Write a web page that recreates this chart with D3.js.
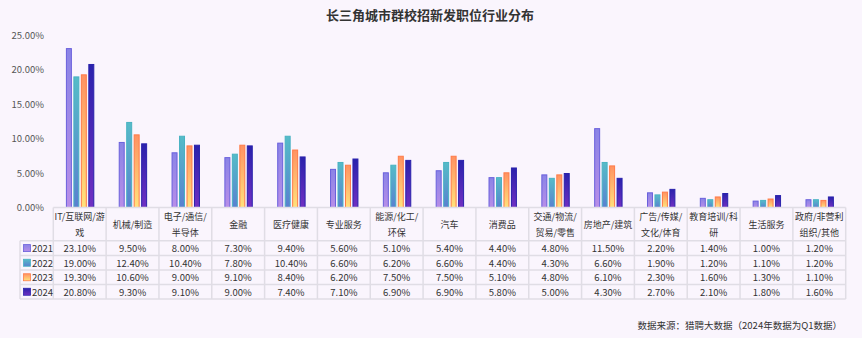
<!DOCTYPE html>
<html><head><meta charset="utf-8">
<script src="https://cdn.jsdelivr.net/npm/d3@7"></script>
<style>
html,body{margin:0;padding:0;background:#faf5fd;}
svg{display:block;font-family:"Noto Sans CJK SC","Noto Sans",sans-serif;}
</style></head>
<body><svg id="c" width="862" height="338"></svg>
<script>
const title = "长三角城市群校招新发职位行业分布";
const source = "数据来源：猎聘大数据（2024年数据为Q1数据）";
const categories = ["IT/互联网/游戏","机械/制造","电子/通信/半导体","金融","医疗健康","专业服务","能源/化工/环保","汽车","消费品","交通/物流/贸易/零售","房地产/建筑","广告/传媒/文化/体育","教育培训/科研","生活服务","政府/非营利组织/其他"];
// header label lines as shown in the table
const categoryLines = [["IT/互联网/游","戏"],["机械/制造"],["电子/通信/","半导体"],["金融"],["医疗健康"],["专业服务"],["能源/化工/","环保"],["汽车"],["消费品"],["交通/物流/","贸易/零售"],["房地产/建筑"],["广告/传媒/","文化/体育"],["教育培训/科","研"],["生活服务"],["政府/非营利","组织/其他"]];
const years = ["2021","2022","2023","2024"];
const v2021 = [23.1,9.5,8.0,7.3,9.4,5.6,5.1,5.4,4.4,4.8,11.5,2.2,1.4,1.0,1.2];
const v2022 = [19.0,12.4,10.4,7.8,10.4,6.6,6.2,6.6,4.4,4.3,6.6,1.9,1.2,1.1,1.2];
const v2023 = [19.3,10.6,9.0,9.1,8.4,6.2,7.5,7.5,5.1,4.8,6.1,2.3,1.6,1.3,1.1];
const v2024 = [20.8,9.3,9.1,9.0,7.4,7.1,6.9,6.9,5.8,5.0,4.3,2.7,2.1,1.8,1.6];
const yTicks = [0,5,10,15,20,25];

const series = [v2021,v2022,v2023,v2024];
const grads = [
  {top:"#8a84e6",bot:"#b88ee8",stroke:"#6a60dc"},
  {top:"#55bcc8",bot:"#5a80d0",stroke:"#48b2c2"},
  {top:"#ff9262",bot:"#ffe27c",stroke:"#ff7c48"},
  {top:"#2a22ac",bot:"#7030c2",stroke:"#2a22ac"}
];

const svg = d3.select("#c");
const defs = svg.append("defs");
grads.forEach((g,i)=>{
  const lg = defs.append("linearGradient").attr("id","g"+i).attr("x1",0).attr("y1",0).attr("x2",0).attr("y2",1);
  lg.append("stop").attr("offset","0%").attr("stop-color",g.top);
  lg.append("stop").attr("offset","100%").attr("stop-color",g.bot);
});

const fs = 9.5;
const left = 53.3, right = 845.7, y0 = 207.5, yTop = 35;
const x = d3.scaleBand().domain(categories).range([left,right]).padding(0);
const xs = d3.scaleBand().domain(years).range([12.6,41.0]).paddingInner(0.2);
const y = d3.scaleLinear().domain([0,25]).range([y0,yTop]);

// title
svg.append("text").attr("x",430).attr("y",14).attr("text-anchor","middle").attr("dominant-baseline","central")
  .attr("font-size",13).attr("font-weight","bold").attr("fill","#333").text(title);

// y axis
const yAxis = d3.axisLeft(y).tickValues(yTicks).tickFormat(d=>d3.format(".2f")(d)+"%").tickSize(0).tickPadding(0);
const ga = svg.append("g").attr("transform","translate(44,0)").call(yAxis);
ga.select(".domain").remove();
ga.selectAll("text").attr("font-size",fs).attr("fill","#555").attr("font-family","'Noto Sans CJK SC','Noto Sans',sans-serif");

// bars
series.forEach((vals,si)=>{
  svg.append("g").selectAll("rect").data(vals).join("rect")
    .attr("x",(d,i)=>x(categories[i])+xs(years[si])+0.5)
    .attr("y",d=>y(d)+0.5)
    .attr("width",xs.bandwidth()-1)
    .attr("height",d=>Math.max(0,y0-y(d)-0.5))
    .attr("fill","url(#g"+si+")")
    .attr("stroke",grads[si].stroke).attr("stroke-width",1);
});

// table
const rowLines = [y0,240.7,255.5,270,284.5,299];
const lineColor = "#e0dde5";
const tg = svg.append("g");
tg.append("line").attr("x1",left).attr("x2",right).attr("y1",y0).attr("y2",y0).attr("stroke",lineColor).attr("stroke-width",1.5);
rowLines.slice(1).forEach(yy=>{
  tg.append("line").attr("x1",20).attr("x2",right).attr("y1",yy).attr("y2",yy).attr("stroke",lineColor).attr("stroke-width",1.5);
});
tg.append("line").attr("x1",20).attr("x2",20).attr("y1",rowLines[1]).attr("y2",rowLines[5]).attr("stroke",lineColor).attr("stroke-width",1.5);
const colEdges = categories.map(c=>x(c)).concat([right]);
colEdges.forEach(xx=>{
  tg.append("line").attr("x1",xx).attr("x2",xx).attr("y1",y0).attr("y2",rowLines[5]).attr("stroke",lineColor).attr("stroke-width",1.5);
});

// header labels
const maxW = x.bandwidth()-2;
categories.forEach((c,i)=>{
  const cx = x(c)+x.bandwidth()/2;
  const lines = categoryLines[i];
  const t = tg.append("text").attr("font-size",9).attr("fill","#333").attr("text-anchor","middle");
  const ys = lines.length===1 ? [224] : [216,232];
  lines.forEach((l,k)=>{
    const sp = t.append("tspan").attr("x",cx).attr("y",ys[k]).attr("dominant-baseline","central").text(l);
    const w = sp.node().getComputedTextLength();
    if(w>maxW) sp.attr("textLength",maxW).attr("lengthAdjust","spacingAndGlyphs");
  });
});

// data rows
series.forEach((vals,si)=>{
  const cy = (rowLines[si+1]+rowLines[si+2])/2;
  tg.append("rect").attr("x",23.5).attr("y",cy-3.5).attr("width",7).attr("height",7)
    .attr("fill","url(#g"+si+")").attr("stroke",grads[si].stroke).attr("stroke-width",0.8);
  tg.append("text").attr("x",32).attr("y",cy).attr("dominant-baseline","central").attr("font-size",fs).attr("fill","#333").text(years[si]);
  vals.forEach((v,i)=>{
    tg.append("text").attr("x",x(categories[i])+x.bandwidth()/2).attr("y",cy).attr("text-anchor","middle")
      .attr("dominant-baseline","central").attr("font-size",fs).attr("fill","#333").text(d3.format(".2f")(v)+"%");
  });
});

// source
svg.append("text").attr("x",842).attr("y",325).attr("text-anchor","end").attr("dominant-baseline","central")
  .attr("font-size",9.5).attr("fill","#333").text(source);
</script></body></html>
